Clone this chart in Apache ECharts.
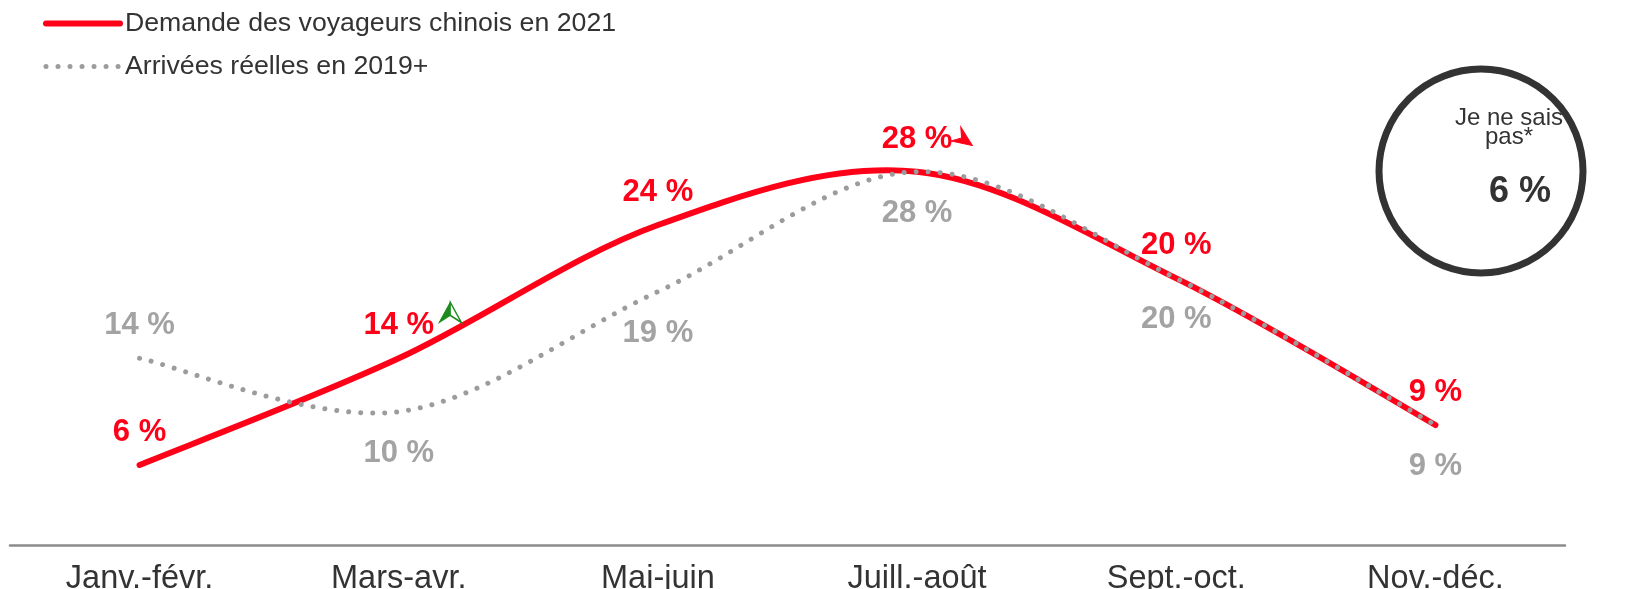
<!DOCTYPE html>
<html>
<head>
<meta charset="utf-8">
<script src="https://cdn.jsdelivr.net/npm/echarts@6/dist/echarts.min.js"></script>
<style>
  html, body { margin: 0; padding: 0; background: #fff; }
  #chart { width: 1647px; height: 589px; }
</style>
</head>
<body>
<div id="chart"></div>
<script>
// periodes (axe x)
const categories = ['Janv.-févr.', 'Mars-avr.', 'Mai-juin', 'Juill.-août', 'Sept.-oct.', 'Nov.-déc.']
// demande 2021 (%)
const demand2021 = [6, 14, 24, 28, 20, 9]
// arrivees reelles 2019 (%)
const arrivals2019 = [14, 10, 19, 28, 20, 9]
const seriesNames = ['Demande des voyageurs chinois en 2021', 'Arrivées réelles en 2019+']
const unknownShare = 6

const RED = '#ff0019'
const GREY = '#9c9c9c'
const FONT = "'Liberation Sans', Arial, sans-serif"
const GREY_DASH = [0.01, 12]

const chart = echarts.init(document.getElementById('chart'))

const fmt = p => p.value + ' %'

// courbe lissee facon Excel (Catmull-Rom) a partir des coordonnees de l'axe
function smoothPath(api, values) {
  const pts = values.map((v, i) => api.coord([i, v]))
  const n = pts.length
  let d = 'M' + pts[0][0] + ',' + pts[0][1]
  for (let i = 0; i < n - 1; i++) {
    const p0 = pts[Math.max(i - 1, 0)]
    const p1 = pts[i]
    const p2 = pts[i + 1]
    const p3 = pts[Math.min(i + 2, n - 1)]
    const c1x = p1[0] + (p2[0] - p0[0]) / 6
    const c1y = p1[1] + (p2[1] - p0[1]) / 6
    const c2x = p2[0] - (p3[0] - p1[0]) / 6
    const c2y = p2[1] - (p3[1] - p1[1]) / 6
    d += ' C' + c1x + ',' + c1y + ' ' + c2x + ',' + c2y + ' ' + p2[0] + ',' + p2[1]
  }
  return d
}

function curveSeries(values, style, z) {
  return {
    type: 'custom',
    coordinateSystem: 'cartesian2d',
    silent: true,
    z: z,
    data: [[0, values[0]]],
    renderItem: (params, api) => ({
      type: 'path',
      shape: { pathData: smoothPath(api, values) },
      style: Object.assign({ fill: 'none' }, style)
    })
  }
}

const option = {
  backgroundColor: '#fff',
  animation: false,
  legend: {
    orient: 'vertical',
    left: 38,
    top: 5,
    itemWidth: 74,
    itemHeight: 26,
    itemGap: 16,
    selectedMode: false,
    itemStyle: { opacity: 0 },
    data: [
      { name: seriesNames[0], lineStyle: { color: RED, width: 6, opacity: 1, cap: 'round', type: 'solid' } },
      { name: seriesNames[1], lineStyle: { color: GREY, width: 5, opacity: 1, cap: 'round', type: GREY_DASH } }
    ],
    textStyle: { color: '#333', fontSize: 26.7, fontFamily: FONT }
  },
  grid: { left: 10, right: 82, top: 145, bottom: 44, containLabel: false, outerBoundsMode: 'none' },
  xAxis: {
    type: 'category',
    data: categories,
    boundaryGap: true,
    axisLine: { lineStyle: { color: '#8c8c8c', width: 2.5 } },
    axisTick: { show: false },
    axisLabel: { color: '#333', fontSize: 32.5, fontFamily: FONT, margin: 18 }
  },
  yAxis: {
    type: 'value',
    min: 0,
    max: 30,
    show: false,
    splitLine: { show: false }
  },
  graphic: [
    {
      type: 'circle',
      shape: { cx: 1481, cy: 171, r: 102 },
      style: { fill: 'none', stroke: '#333', lineWidth: 7 }
    },
    {
      type: 'text',
      x: 1509, y: 128,
      style: {
        text: 'Je ne sais\npas*', fill: '#333', fontSize: 24, lineHeight: 19,
        fontFamily: FONT, align: 'center', verticalAlign: 'middle'
      }
    },
    {
      type: 'text',
      x: 1520, y: 192,
      style: {
        text: unknownShare + ' %', fill: '#333', fontSize: 36, fontWeight: 'bold',
        fontFamily: FONT, align: 'center', verticalAlign: 'middle'
      }
    }
  ],
  series: [
    curveSeries(demand2021, { stroke: RED, lineWidth: 6, lineCap: 'round' }, 2),
    curveSeries(arrivals2019, { stroke: GREY, lineWidth: 5, lineCap: 'round', lineDash: GREY_DASH }, 3),
    {
      name: seriesNames[0],
      type: 'line',
      symbol: 'circle',
      symbolSize: 0,
      z: 4,
      data: demand2021,
      lineStyle: { color: RED, opacity: 0 },
      itemStyle: { color: RED },
      label: {
        show: true, position: 'top', distance: 17, formatter: fmt,
        color: RED, fontSize: 31, fontWeight: 'bold', fontFamily: FONT
      },
      markPoint: {
        silent: true,
        label: { show: false },
        data: [
          // fleche verte (hausse) pres de mars-avr.
          { coord: [1, demand2021[1]], symbol: 'path://M0,0 L-11,20 L0,13 Z', symbolSize: [11, 20],
            symbolOffset: [46, -46], itemStyle: { color: '#1d8a1d', borderColor: '#1d8a1d', borderWidth: 1 } },
          { coord: [1, demand2021[1]], symbol: 'path://M0,0 L11,20 L0,13 Z', symbolSize: [11, 20],
            symbolOffset: [57, -46], itemStyle: { color: '#fff', borderColor: '#1d8a1d', borderWidth: 1.5 } },
          // fleche rouge (baisse) pres de juill.-aout
          { coord: [3, demand2021[3]], symbol: 'path://M0,0 L11,20 L0,13 L-11,20 Z', symbolSize: [17, 20],
            symbolRotate: -125, symbolOffset: [47, -32], itemStyle: { color: RED, borderColor: RED, borderWidth: 1 } }
        ]
      }
    },
    {
      name: seriesNames[1],
      type: 'line',
      symbol: 'circle',
      symbolSize: 0,
      z: 5,
      data: arrivals2019.map((v, i) => i === 0 ? { value: v, label: { position: 'top', distance: 17 } } : v),
      lineStyle: { color: GREY, opacity: 0 },
      itemStyle: { color: GREY },
      label: {
        show: true, position: 'bottom', distance: 26, formatter: fmt,
        color: '#a3a3a3', fontSize: 31, fontWeight: 'bold', fontFamily: FONT
      }
    }
  ]
}

chart.setOption(option)

window.addEventListener('resize', () => {
  if (chart) {
    chart.resize()
  }
})
</script>
</body>
</html>
